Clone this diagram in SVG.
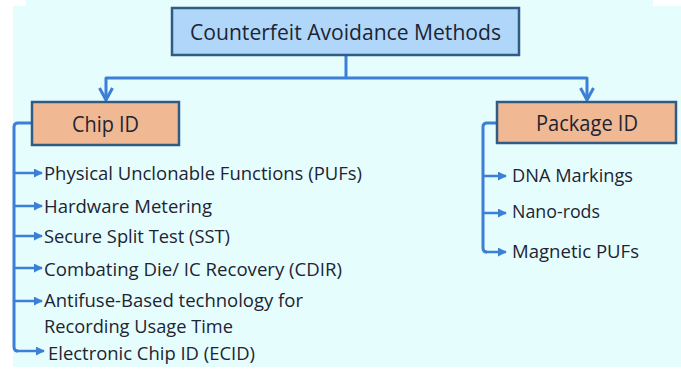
<svg xmlns="http://www.w3.org/2000/svg" width="681" height="372" viewBox="0 0 681 372">
  <defs>
    <style>
      .bg { fill: #e6fdfe; }
      .top { fill: #b0d7fa; stroke: #2f5b85; stroke-width: 2.5; }
      .sub { fill: #f0b893; stroke: #2f5b85; stroke-width: 2.5; }
      .title { font-family: "Open Sans", "Liberation Sans", sans-serif; font-size: 22px; fill: #1d2432; }
      .item { font-family: "Open Sans", "Liberation Sans", sans-serif; font-size: 18.5px; fill: #1d2432; }
      .line { fill: none; stroke: #3b7fd6; stroke-width: 3; stroke-linejoin: round; }
      .branch { fill: none; stroke: #3b7fd6; stroke-width: 2.5; marker-end: url(#tri); }
    </style>
    <marker id="tri" viewBox="0 0 10 10" refX="9" refY="5" markerWidth="9" markerHeight="9" markerUnits="userSpaceOnUse" orient="auto">
      <path d="M0,0 L10,5 L0,10 Z" fill="#3b7fd6"/>
    </marker>
  </defs>

  <rect x="0" y="0" width="681" height="372" fill="#ffffff"/>
  <rect class="bg" x="13" y="0" width="668" height="367"/>
  <rect x="13" y="0" width="13" height="6" fill="#ffffff"/>
  <rect x="653" y="0" width="28" height="6" fill="#ffffff"/>

  <g id="connectors">
    <path class="line" d="M346,55 V78 M106,98 V78 H587 V98"/>
    <path class="line" d="M99.5,88 L106,100 L112.5,88"/>
    <path class="line" d="M580.5,88 L587,100 L593.5,88"/>
    <path class="line" d="M32,123 H18 Q14,123 14,127 V347 Q14,351 18,351"/>
    <path class="branch" d="M14,173 H42"/>
    <path class="branch" d="M14,206 H42"/>
    <path class="branch" d="M14,236 H42"/>
    <path class="branch" d="M14,268 H42"/>
    <path class="branch" d="M14,301 H42"/>
    <path class="branch" d="M16,351 H44"/>
    <path class="line" d="M497,123 H487 Q483,123 483,127 V248 Q483,252 487,252"/>
    <path class="branch" d="M483,176 H506"/>
    <path class="branch" d="M483,213 H506"/>
    <path class="branch" d="M485,252 H506"/>
  </g>

  <g id="root">
    <rect class="top" x="172" y="8" width="347" height="47"/>
    <text class="title" x="190" y="40" textLength="311" lengthAdjust="spacingAndGlyphs">Counterfeit Avoidance Methods</text>
  </g>

  <g id="chip-id">
    <rect class="sub" x="32" y="102" width="147" height="43"/>
    <text class="title" x="72" y="132" textLength="67" lengthAdjust="spacingAndGlyphs">Chip ID</text>
  </g>

  <g id="package-id">
    <rect class="sub" x="497" y="102" width="179" height="41"/>
    <text class="title" x="536" y="131" textLength="102" lengthAdjust="spacingAndGlyphs">Package ID</text>
  </g>

  <g id="chip-items">
    <text class="item" x="44" y="180" textLength="318" lengthAdjust="spacingAndGlyphs">Physical Unclonable Functions (PUFs)</text>
    <text class="item" x="44" y="213" textLength="168" lengthAdjust="spacingAndGlyphs">Hardware Metering</text>
    <text class="item" x="44" y="243" textLength="186" lengthAdjust="spacingAndGlyphs">Secure Split Test (SST)</text>
    <text class="item" x="44" y="276" textLength="298" lengthAdjust="spacingAndGlyphs">Combating Die/ IC Recovery (CDIR)</text>
    <text class="item" x="44" y="307" textLength="259" lengthAdjust="spacingAndGlyphs">Antifuse-Based technology for</text>
    <text class="item" x="44" y="333" textLength="189" lengthAdjust="spacingAndGlyphs">Recording Usage Time</text>
    <text class="item" x="48" y="360" textLength="207" lengthAdjust="spacingAndGlyphs">Electronic Chip ID (ECID)</text>
  </g>

  <g id="package-items">
    <text class="item" x="512" y="182" textLength="121" lengthAdjust="spacingAndGlyphs">DNA Markings</text>
    <text class="item" x="512" y="218" textLength="88" lengthAdjust="spacingAndGlyphs">Nano-rods</text>
    <text class="item" x="512" y="258" textLength="127" lengthAdjust="spacingAndGlyphs">Magnetic PUFs</text>
  </g>
</svg>
